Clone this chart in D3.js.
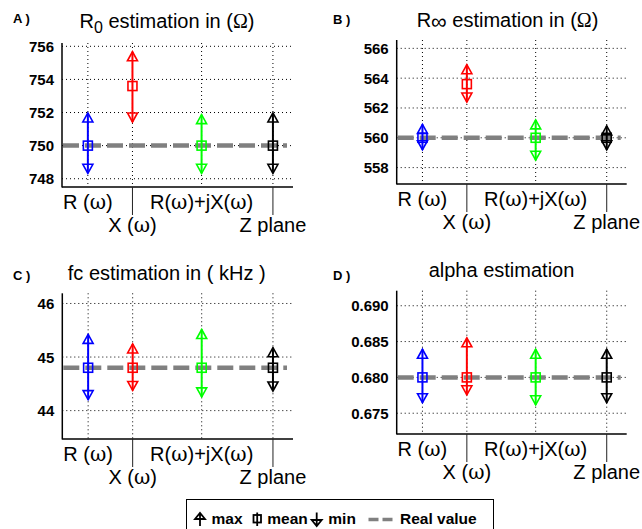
<!DOCTYPE html>
<html>
<head>
<meta charset="utf-8">
<script src="https://cdnjs.cloudflare.com/ajax/libs/d3/7.8.5/d3.min.js"></script>
<style>
  body { margin: 0; background: #fff; }
  text { font-family: "Liberation Sans", Arial, sans-serif; fill: #000; }
</style>
</head>
<body>
<div id="vis"></div>
<script type="text/javascript">

// methods compared in every panel
const methods = ["R (ω)", "X (ω)", "R(ω)+jX(ω)", "Z plane"];
const methodPos = [1, 2, 3.55, 5.15];
const methodRow = [0, 1, 0, 1];
const methodColors = ["#0000ff", "#ff0000", "#00ff00", "#000000"];

// A) R0 in ohm
const r0Max  = [751.7, 755.4, 751.6, 751.7];
const r0Mean = [750.0, 753.6, 750.0, 750.0];
const r0Min  = [748.6, 751.7, 748.6, 748.6];
const r0Real = 750;
const r0Ticks = [748, 750, 752, 754, 756];

// B) Rinf in ohm
const rinfMax  = [560.6, 564.6, 560.9, 560.5];
const rinfMean = [560.0, 563.6, 560.0, 560.0];
const rinfMin  = [559.5, 562.7, 558.8, 559.5];
const rinfReal = 560;
const rinfTicks = [558, 560, 562, 564, 566];

// C) fc in kHz
const fcMax  = [45.34, 45.16, 45.43, 45.09];
const fcMean = [44.80, 44.80, 44.80, 44.80];
const fcMin  = [44.29, 44.46, 44.34, 44.45];
const fcReal = 44.8;
const fcTicks = [44, 45, 46];

// D) alpha
const alphaMax  = [0.6833, 0.6849, 0.6833, 0.6833];
const alphaMean = [0.6800, 0.6800, 0.6800, 0.6800];
const alphaMin  = [0.6771, 0.6782, 0.6768, 0.6771];
const alphaReal = 0.68;
const alphaTicks = [0.675, 0.680, 0.685, 0.690];

const legendLabels = ["max", "mean", "min", "Real value"];

const svg = d3.select("#vis")
    .append("svg")
    .attr("width", 642)
    .attr("height", 529)
    .style("display", "block");

svg.append("rect").attr("width", 642).attr("height", 529).attr("fill", "#fff");

// write text made of pieces, greek letters in a serif face, subscripts lowered
function richText(g, x, y, parts, size, anchor) {
    const t = g.append("text")
        .attr("x", x).attr("y", y)
        .attr("text-anchor", anchor || "middle")
        .style("font-size", size + "px");
    let shift = 0;
    parts.forEach(p => {
        const s = t.append("tspan").text(p.t);
        if (p.serif) s.style("font-family", p.serif);
        const want = p.sub ? p.sub : 0;
        if (want !== shift) { s.attr("dy", want - shift); shift = want; }
        if (p.size) s.style("font-size", p.size + "px");
    });
    return t;
}

function splitGreek(str) {
    return str.split(/([ωΩ])/).filter(s => s.length)
        .map(s => /[ωΩ]/.test(s) ? {t: s, serif: "'DejaVu Serif', serif"} : {t: s});
}

function drawPanel(p) {
    const g = svg.append("g");
    const x = d3.scaleLinear().domain([0.42, 5.6]).range([p.x0, p.x1]);
    const y = d3.scaleLinear().domain(p.domain).range([p.y1, p.y0]);

    // dotted grid
    g.selectAll("line.hgrid").data(p.ticks).enter().append("line")
        .attr("x1", p.x0).attr("x2", p.x1)
        .attr("y1", d => y(d)).attr("y2", d => y(d))
        .attr("stroke", "#000").attr("stroke-width", 1)
        .attr("stroke-dasharray", "1,3");
    g.selectAll("line.vgrid").data(methodPos).enter().append("line")
        .attr("x1", d => x(d)).attr("x2", d => x(d))
        .attr("y1", p.y0).attr("y2", p.y1)
        .attr("stroke", "#000").attr("stroke-width", 1)
        .attr("stroke-dasharray", "1,3");

    // axes, left and bottom only
    g.append("line").attr("x1", p.x0).attr("x2", p.x0).attr("y1", p.y0).attr("y2", p.y1 + 0.5)
        .attr("stroke", "#000").attr("stroke-width", 1.5);
    g.append("line").attr("x1", p.x0).attr("x2", p.x1).attr("y1", p.y1).attr("y2", p.y1)
        .attr("stroke", "#000").attr("stroke-width", 1.5);

    g.selectAll("text.tick").data(p.ticks).enter().append("text")
        .attr("x", p.x0 - 8).attr("y", d => y(d) + 5.5)
        .attr("text-anchor", "end")
        .style("font-size", "15px").style("font-weight", "bold")
        .text(d => d3.format(p.fmt)(d));

    // real value
    g.append("line")
        .attr("x1", p.x0 + 1).attr("x2", p.x1 - 6)
        .attr("y1", y(p.real)).attr("y2", y(p.real))
        .attr("stroke", "#808080").attr("stroke-width", 4.5)
        .attr("stroke-dasharray", "16,6");

    // min/max bars with markers
    methods.forEach((m, i) => {
        const cx = x(methodPos[i]), c = methodColors[i];
        const yMax = y(p.max[i]), yMin = y(p.min[i]), yMean = y(p.mean[i]);
        g.append("line").attr("x1", cx).attr("x2", cx)
            .attr("y1", yMax - 4.5).attr("y2", yMin + 4.5)
            .attr("stroke", c).attr("stroke-width", 2);
        g.append("path")
            .attr("d", `M${cx - 5},${yMax + 4.5}L${cx},${yMax - 4.5}L${cx + 5},${yMax + 4.5}Z`)
            .attr("fill", "none").attr("stroke", c).attr("stroke-width", 1.6);
        g.append("path")
            .attr("d", `M${cx - 5},${yMin - 4.5}L${cx},${yMin + 4.5}L${cx + 5},${yMin - 4.5}Z`)
            .attr("fill", "none").attr("stroke", c).attr("stroke-width", 1.6);
        g.append("rect")
            .attr("x", cx - 4.5).attr("y", yMean - 4.5).attr("width", 9).attr("height", 9)
            .attr("fill", "none").attr("stroke", c).attr("stroke-width", 1.6);
    });

    // category labels on two rows
    methods.forEach((m, i) => {
        const cx = x(methodPos[i]);
        if (methodRow[i] === 1) {
            g.append("line").attr("x1", cx).attr("x2", cx)
                .attr("y1", p.y1).attr("y2", p.y1 + 28)
                .attr("stroke", "#222").attr("stroke-width", 1);
        }
        richText(g, cx, p.y1 + (methodRow[i] ? 45 : 22), splitGreek(m), 20);
    });

    richText(g, p.titleX, p.titleY, p.title, 20);
    g.append("text").attr("x", p.tagX).attr("y", p.tagY)
        .style("font-size", "13px").style("font-weight", "bold")
        .text(p.tag);
}

const serifFace = "'Liberation Serif', 'Times New Roman', serif";

const panels = [
    {tag: "A )", tagX: 13, tagY: 23, x0: 62, x1: 293, y0: 43, y1: 187, domain: [747.5, 756.2],
     ticks: r0Ticks, fmt: "d", max: r0Max, mean: r0Mean, min: r0Min, real: r0Real,
     titleX: 167, titleY: 28,
     title: [{t: "R"}, {t: "0", sub: 5, size: 16}, {t: "  estimation in ("}, {t: "Ω", serif: serifFace}, {t: ")"}]},
    {tag: "B )", tagX: 333, tagY: 24, x0: 396.7, x1: 626.7, y0: 40, y1: 184, domain: [556.9, 566.56],
     ticks: rinfTicks, fmt: "d", max: rinfMax, mean: rinfMean, min: rinfMin, real: rinfReal,
     titleX: 507.5, titleY: 27,
     title: [{t: "R"}, {t: "∞", sub: 2, size: 22}, {t: " estimation in  ("}, {t: "Ω", serif: serifFace}, {t: ")"}]},
    {tag: "C )", tagX: 13, tagY: 280, x0: 62.3, x1: 293, y0: 293.3, y1: 439, domain: [43.47, 46.19],
     ticks: fcTicks, fmt: "d", max: fcMax, mean: fcMean, min: fcMin, real: fcReal,
     titleX: 166.7, titleY: 280,
     title: [{t: "fc estimation in ( kHz )"}]},
    {tag: "D )", tagX: 333, tagY: 280, x0: 396.7, x1: 626.7, y0: 290.7, y1: 434, domain: [0.6721, 0.6921],
     ticks: alphaTicks, fmt: ".3f", max: alphaMax, mean: alphaMean, min: alphaMin, real: alphaReal,
     titleX: 501.5, titleY: 277,
     title: [{t: "alpha estimation"}]}
];

panels.forEach(drawPanel);

// legend, cut by the bottom edge like the original
function drawLegend() {
    const g = svg.append("g");
    g.append("rect").attr("x", 186.5).attr("y", 499.5).attr("width", 307).attr("height", 40)
        .attr("fill", "#fff").attr("stroke", "#000").attr("stroke-width", 1);
    const base = 523.5;
    // max icon
    g.append("path").attr("d", "M195,519L200,513L205,519Z M200,513V526")
        .attr("fill", "none").attr("stroke", "#000").attr("stroke-width", 1.8);
    // mean icon
    g.append("rect").attr("x", 253.5).attr("y", 515).attr("width", 7.5).attr("height", 7.5)
        .attr("fill", "none").attr("stroke", "#000").attr("stroke-width", 1.8);
    g.append("line").attr("x1", 257.2).attr("x2", 257.2).attr("y1", 512.5).attr("y2", 526)
        .attr("stroke", "#000").attr("stroke-width", 1.8);
    // min icon
    g.append("path").attr("d", "M311.7,520L316.7,526L321.7,520Z M316.7,512.5V526")
        .attr("fill", "none").attr("stroke", "#000").attr("stroke-width", 1.8);
    // real value icon
    g.append("line").attr("x1", 368.5).attr("x2", 394).attr("y1", 519.5).attr("y2", 519.5)
        .attr("stroke", "#808080").attr("stroke-width", 3.5).attr("stroke-dasharray", "10,4");

    const lx = [211.5, 267.3, 328.3, 400];
    g.selectAll("text.leg").data(legendLabels).enter().append("text")
        .attr("x", (d, i) => lx[i]).attr("y", base)
        .style("font-size", "15.5px").style("font-weight", "bold")
        .text(d => d);
}

drawLegend();

</script>
</body>
</html>
